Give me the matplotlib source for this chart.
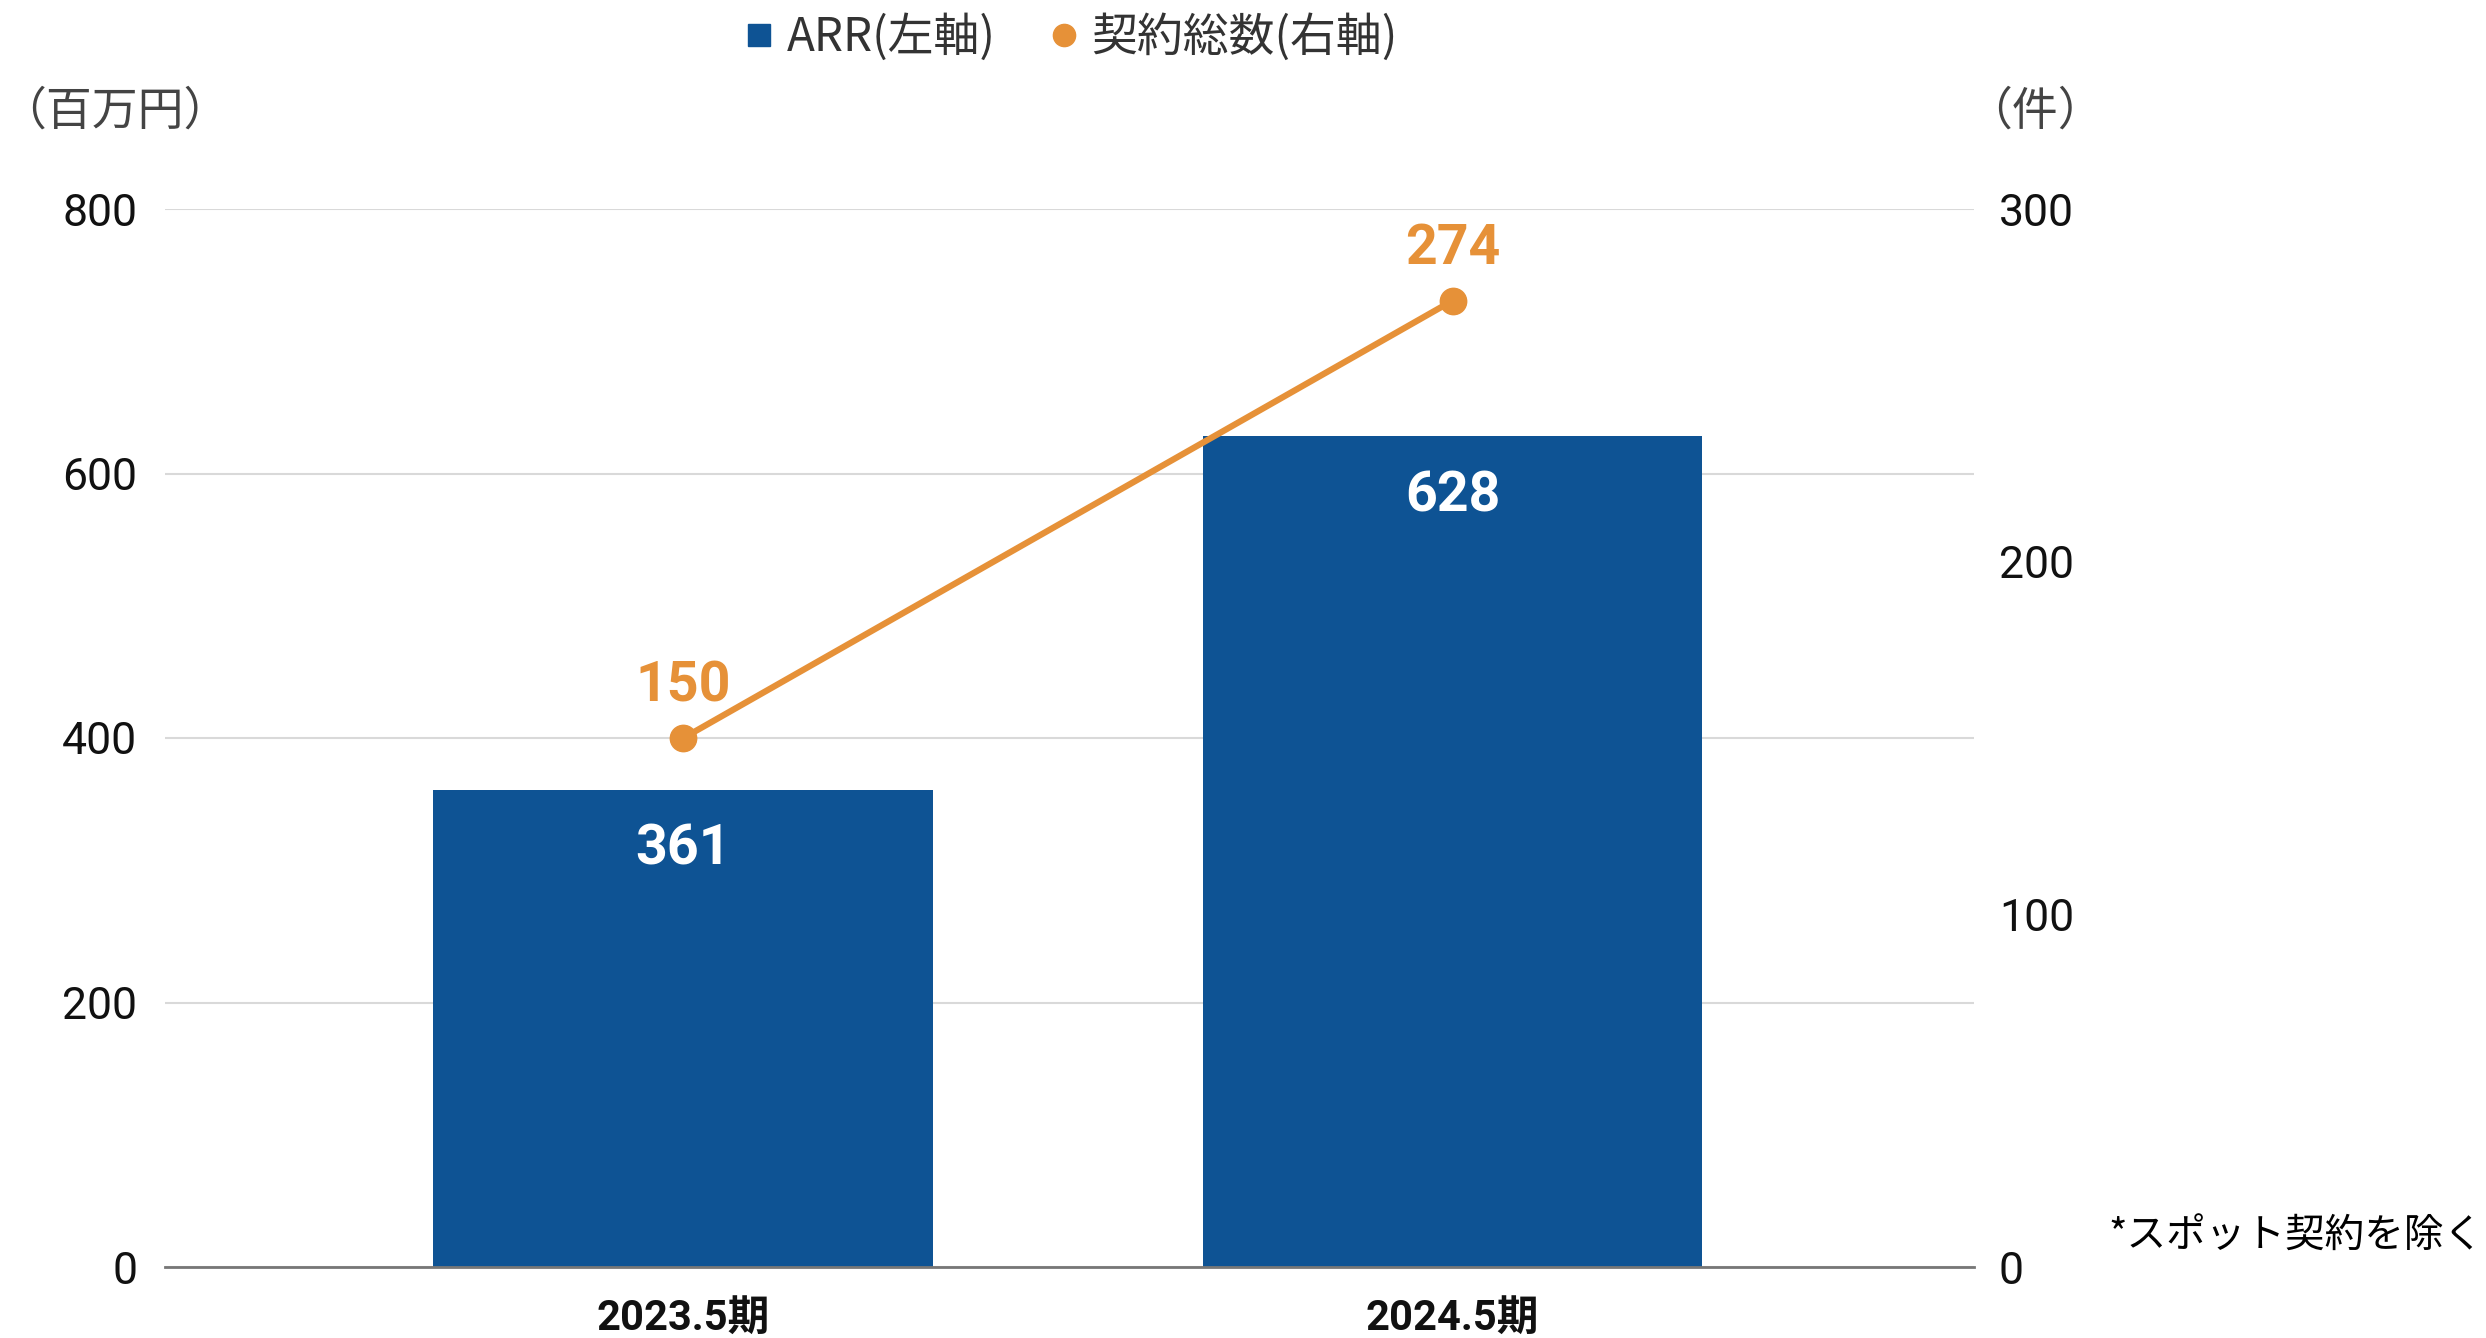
import matplotlib
matplotlib.use("Agg")
import matplotlib.pyplot as plt
from matplotlib.lines import Line2D
import numpy as np

categories = ["2023.5期", "2024.5期"]
arr_values = [361, 628]
contract_values = [150, 274]
left_ticks = [0, 200, 400, 600, 800]
right_ticks = [0, 100, 200, 300]

BAR = "#0E5394"
ORANGE = "#E69138"
FAM = ["Roboto", "Noto Sans CJK JP", "DejaVu Sans"]
JFAM = ["Noto Sans CJK JP", "DejaVu Sans"]
plt.rcParams["font.family"] = FAM

W, H = 2486, 1338
fig = plt.figure(figsize=(W / 100, H / 100), dpi=100)
ax = fig.add_axes([165 / W, 1 - 1267 / H, (1974 - 165) / W, (1267 - 209) / H])
ax2 = ax.twinx()

x = np.arange(len(categories))
bars = ax.bar(x, arr_values, width=0.65, color=BAR, zorder=2)
ax.set_xlim(-0.674, 1.678)
ax.set_ylim(0, 800)
ax.set_yticks(left_ticks)
ax.set_yticklabels([str(t) for t in left_ticks])
ax.grid(axis="y", color="#d9d9d9", linewidth=1.5, zorder=0)
ax.set_axisbelow(True)
ax.set_xticks(x)
ax.set_xticklabels(categories, fontsize=30, fontweight="bold", family=FAM)
for s in ["top", "right", "left"]:
    ax.spines[s].set_visible(False)
ax.spines["bottom"].set_color("#777777")
ax.spines["bottom"].set_linewidth(2)
ax.tick_params(axis="y", length=0, pad=20, labelsize=32, labelcolor="#111111")
ax.tick_params(axis="x", length=0, pad=22, labelcolor="#111111")

for xi, v in zip(x, arr_values):
    ax.annotate(str(v), (xi, v), xytext=(0, -43), textcoords="offset points",
                ha="center", va="center", color="white", fontsize=40,
                fontweight="bold")

ax2.set_ylim(0, 300)
ax2.set_yticks(right_ticks)
ax2.set_yticklabels([str(t) for t in right_ticks])
for s in ["top", "right", "left", "bottom"]:
    ax2.spines[s].set_visible(False)
ax2.tick_params(axis="y", length=0, pad=18, labelsize=32, labelcolor="#111111")
ax2.plot(x, contract_values, color=ORANGE, linewidth=4.5, marker="o",
         markersize=19, zorder=3)
for xi, v in zip(x, contract_values):
    ax2.annotate(str(v), (xi, v), xytext=(0, 37), textcoords="offset points",
                 ha="center", va="center", color=ORANGE, fontsize=40,
                 fontweight="bold")

fig.text(0 / 1568, 1 - 70 / 844, "（百万円）", ha="left", va="center",
         fontsize=33, color="#444444", family=JFAM)
fig.text(1240 / 1568, 1 - 70 / 844, "（件）", ha="left", va="center",
         fontsize=33, color="#444444", family=JFAM)
fig.text(2108 / W, 1 - 1237 / H, "*スポット契約を除く", ha="left", va="center",
         fontsize=28.5, color="black", family=JFAM)

handles = [
    Line2D([], [], linestyle="none", marker="s", markersize=16, color=BAR),
    Line2D([], [], linestyle="none", marker="o", markersize=16, color=ORANGE),
]
leg = fig.legend(handles, ["ARR(左軸)", "契約総数(右軸)"], loc="center",
                 bbox_to_anchor=(673 / 1568, 1 - 24 / 844), ncol=2,
                 frameon=False, prop={"family": JFAM, "size": 33},
                 handletextpad=0.1, columnspacing=1.0, handlelength=1.0)
for t in leg.get_texts():
    t.set_color("#333333")

fig.savefig("out.png", dpi=100)
